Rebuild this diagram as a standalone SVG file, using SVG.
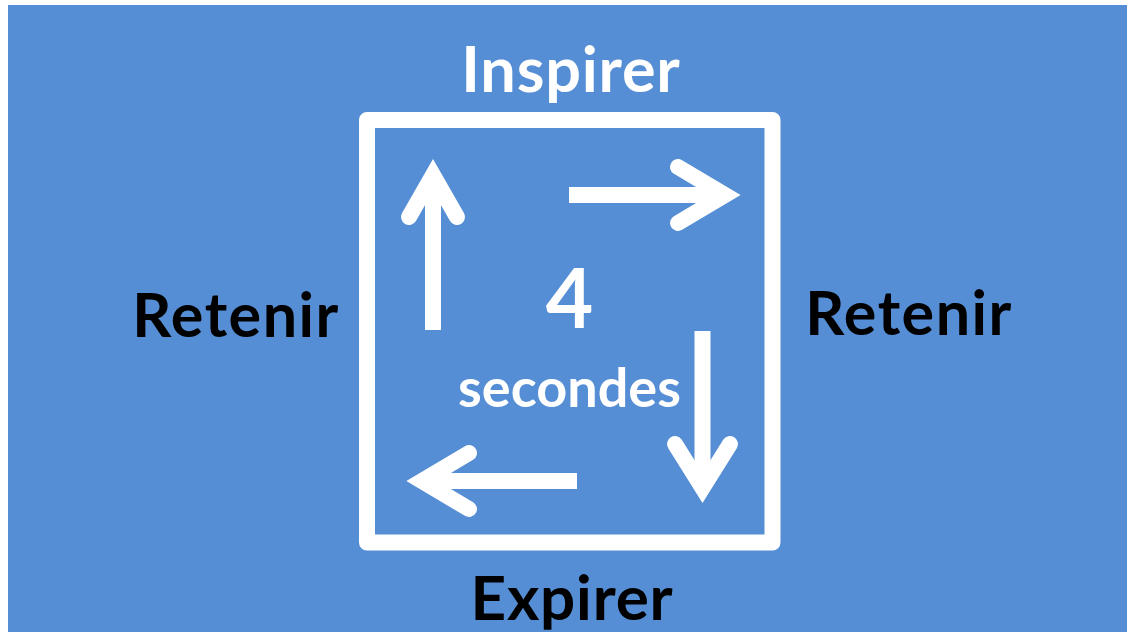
<svg xmlns="http://www.w3.org/2000/svg" width="1127" height="632" viewBox="0 0 1127 632">
<style>
.lbl{font-family:Lato,"Open Sans","Liberation Sans",sans-serif;font-weight:700;text-anchor:middle}
.w{fill:#ffffff}
.k{fill:#000000}
.arr{fill:none;stroke:#ffffff;stroke-width:16}
.head{fill:none;stroke:#ffffff;stroke-width:16;stroke-linecap:round;stroke-linejoin:miter;stroke-miterlimit:10}
</style>
<rect x="0" y="0" width="1127" height="632" fill="#ffffff"/>
<rect x="8" y="5" width="1119" height="627" fill="#558ED5"/>
<g id="box">
<rect x="367" y="120" width="405.5" height="422.5" fill="none" stroke="#ffffff" stroke-width="16" stroke-linejoin="round"/>
</g>
<g id="connectors">
<line class="arr" x1="433" y1="330" x2="433" y2="175"/>
<polyline class="head" points="409,217 433,175 457,217"/>
<line class="arr" x1="569" y1="195" x2="725" y2="195"/>
<polyline class="head" points="678,167 725,195 678,223"/>
<line class="arr" x1="702.5" y1="331" x2="702.5" y2="488"/>
<polyline class="head" points="675,444 702.5,488 730,444"/>
<line class="arr" x1="577" y1="481" x2="422" y2="481"/>
<polyline class="head" points="469,453 422,481 469,509"/>
</g>
<g id="inspirer"><text class="lbl w" x="571" y="92" font-size="63" letter-spacing="0.8">Inspirer</text></g>
<g id="expirer"><text class="lbl k" x="572" y="620" font-size="62" letter-spacing="0.8">Expirer</text></g>
<g id="retenir-left"><text class="lbl k" x="236" y="337" font-size="61" letter-spacing="1.5">Retenir</text></g>
<g id="retenir-right"><text class="lbl k" x="909" y="335" font-size="61" letter-spacing="1.5">Retenir</text></g>
<g id="center"><text class="lbl w" x="569.5" y="328" font-size="82">4</text>
<text class="lbl w" x="569.5" y="407" font-size="54">secondes</text></g>
</svg>
